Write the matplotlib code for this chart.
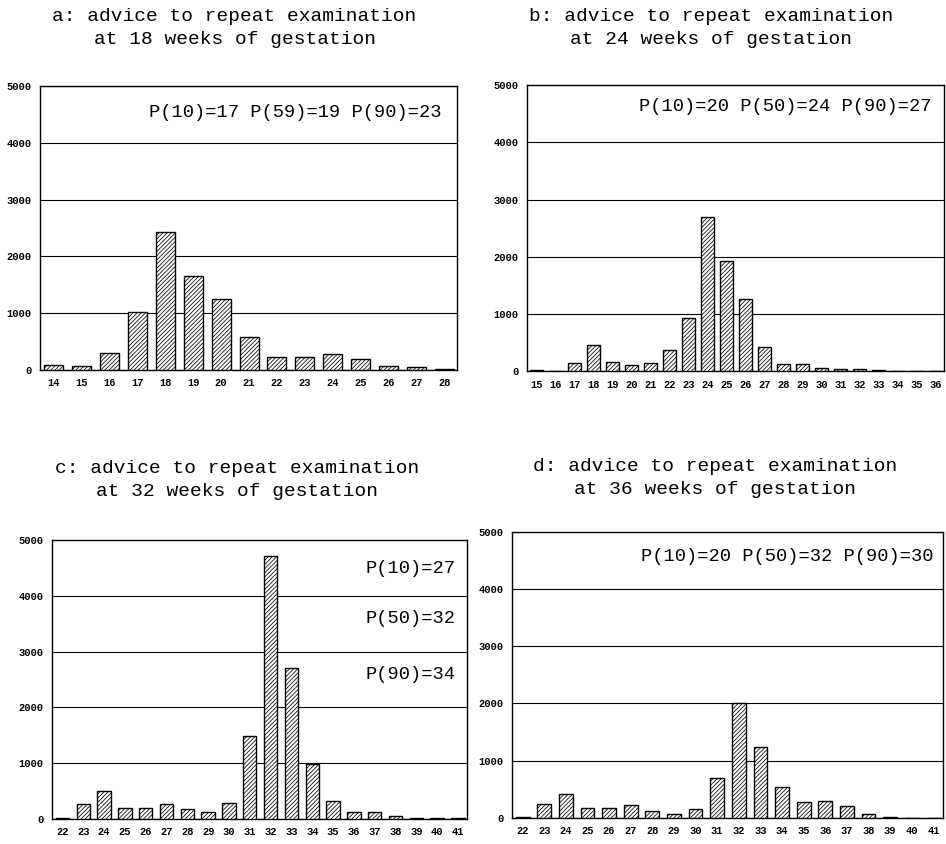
import matplotlib.pyplot as plt
import numpy as np

plt.rcParams['hatch.linewidth'] = 0.55

# weeks of gestation at which the repeat examination was advised
weeks_a = list(range(14, 29))
counts_a = [80, 60, 300, 1020, 2420, 1650, 1250, 570, 220, 220, 270, 180, 60, 50, 20]

weeks_b = list(range(15, 37))
counts_b = [20, 10, 150, 460, 160, 110, 150, 370, 930, 2700, 1930, 1260, 420,
            130, 120, 60, 40, 40, 30, 10, 10, 10]

weeks_c = list(range(22, 42))
counts_c = [10, 260, 490, 200, 190, 260, 170, 120, 280, 1490, 4710, 2710, 990,
            310, 120, 120, 40, 20, 5, 5]

weeks_d = list(range(22, 42))
counts_d = [15, 240, 410, 170, 170, 220, 120, 70, 150, 690, 2000, 1240, 540,
            270, 300, 200, 60, 15, 5, 5]

titles = ["a: advice to repeat examination\nat 18 weeks of gestation",
          "b: advice to repeat examination\nat 24 weeks of gestation",
          "c: advice to repeat examination\nat 32 weeks of gestation",
          "d: advice to repeat examination\nat 36 weeks of gestation"]

mono = 'Liberation Mono'

fig = plt.figure(figsize=(9.46, 8.44), dpi=100)

# axes boxes in figure fractions [left, bottom, width, height]
boxes = [[0.042, 0.562, 0.441, 0.336],
         [0.557, 0.560, 0.441, 0.339],
         [0.055, 0.030, 0.439, 0.330],
         [0.541, 0.031, 0.456, 0.339]]
data = [(weeks_a, counts_a), (weeks_b, counts_b), (weeks_c, counts_c), (weeks_d, counts_d)]
bar_w = [0.68, 0.68, 0.64, 0.64]
title_pos = [(0.248, 0.990), (0.752, 0.990), (0.251, 0.455), (0.756, 0.457)]

for i in range(4):
    ax = fig.add_axes(boxes[i])
    wk, ct = data[i]
    ax.bar(wk, ct, width=bar_w[i], color='white', edgecolor='black',
           hatch='////////', linewidth=1.0, zorder=3)
    ax.set_ylim(0, 5000)
    ax.set_xlim(wk[0] - 0.5, wk[-1] + 0.45)
    ax.set_yticks([0, 1000, 2000, 3000, 4000, 5000])
    ax.set_xticks(wk)
    ax.set_xticklabels([str(w) for w in wk])
    ax.grid(axis='y', color='black', linewidth=0.8, zorder=1)
    ax.tick_params(length=0, labelsize=7.5, pad=6)
    for lab in ax.get_xticklabels() + ax.get_yticklabels():
        lab.set_fontfamily(mono)
        lab.set_fontweight('bold')
    for sp in ax.spines.values():
        sp.set_linewidth(1.0)
    fig.text(title_pos[i][0], title_pos[i][1], titles[i], ha='center', va='top',
             fontsize=14, family=mono, linespacing=1.45)
    if i == 0:
        ax.text(0.964, 0.908, "P(10)=17 P(59)=19 P(90)=23", transform=ax.transAxes,
                ha='right', va='center', fontsize=13.5, family=mono)
    elif i == 1:
        ax.text(0.969, 0.927, "P(10)=20 P(50)=24 P(90)=27", transform=ax.transAxes,
                ha='right', va='center', fontsize=13.5, family=mono)
    elif i == 2:
        for txt, yy in zip(["P(10)=27", "P(50)=32", "P(90)=34"], [0.90, 0.717, 0.516]):
            ax.text(0.971, yy, txt, transform=ax.transAxes,
                    ha='right', va='center', fontsize=13.5, family=mono)
    else:
        ax.text(0.977, 0.913, "P(10)=20 P(50)=32 P(90)=30", transform=ax.transAxes,
                ha='right', va='center', fontsize=13.5, family=mono)

fig.savefig("out.png", dpi=100)
